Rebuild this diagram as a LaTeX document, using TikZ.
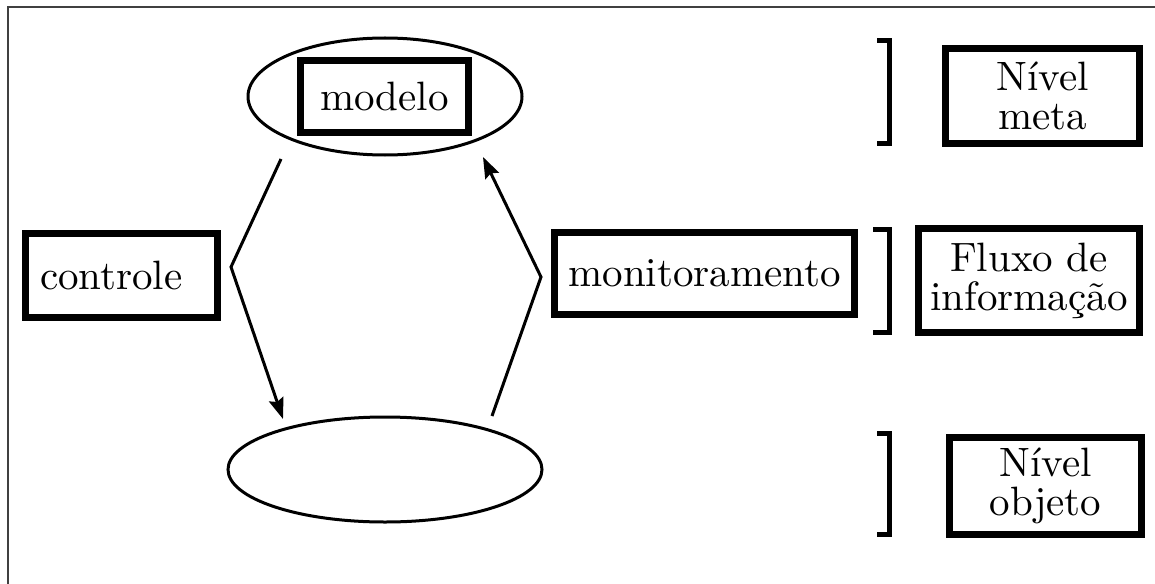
\documentclass[tikz,border=0pt]{standalone}
\usepackage{fontspec}
\setmainfont{lmroman10-regular.otf}[BoldFont=lmroman10-bold.otf,ItalicFont=lmroman10-italic.otf,BoldItalicFont=lmroman10-bolditalic.otf]
\usetikzlibrary{shapes.geometric,arrows.meta}
\begin{document}
\begin{tikzpicture}[x=0.5pt,y=-0.5pt,
  txt/.style={font=\fontsize{20.5}{19.5}\selectfont, align=center},
  box/.style={txt, draw, line width=3.5pt, inner sep=0pt},
  oval/.style={ellipse, draw, line width=1.5pt, inner sep=0pt},
  conn/.style={line width=1.5pt, line join=miter, -{Stealth[length=10.5pt,width=7.5pt,inset=1.5pt]}},
  brk/.style={line width=2.5pt, line join=miter}]
\useasboundingbox (0,0) rectangle (1155,583);
\fill[white] (0,0) rectangle (1155,583);
\draw[line width=0.8pt, black!75] (8,600) -- (8,7) -- (1170,7);

% levels
\node[oval, minimum width=137pt, minimum height=58.5pt] (metaoval) at (385,96.5) {};
\node[oval, minimum width=157pt, minimum height=52.5pt] (objoval) at (385,469.5) {};
\node[box, minimum width=84pt, minimum height=36pt] (modelo) at (384.5,96.5) {modelo};

% side labels
\node[box, minimum width=96pt, minimum height=42pt, text width=81.5pt, align=left, inner xsep=7.25pt] (controle) at (121.5,275.5) {controle};
\node[box, minimum width=150pt, minimum height=41pt] (monit) at (704.5,273.5) {monitoramento};

% right column
\node[box, minimum width=97pt, minimum height=47.5pt] (nmeta) at (1042.5,96) {Nível\\meta};
\node[box, minimum width=110.5pt, minimum height=52pt] (fluxo) at (1029,280.5) {Fluxo de\\informação};
\node[box, minimum width=96pt, minimum height=48.5pt] (nobj) at (1045.5,486) {Nível\\objeto};

% brackets
\draw[brk] (877,40.5) -| (889.5,143.5) -- (877,143.5);
\draw[brk] (873,229.5) -| (889.5,332.5) -- (873,332.5);
\draw[brk] (877,433.5) -| (889.5,534.5) -- (877,534.5);

% connectors
\coordinate (c0) at (281,159);
\coordinate (c1) at (231,267);
\coordinate (c2) at (283,419);
\draw[conn] (c0) -- (c1) -- (c2);
\coordinate (m0) at (492,416);
\coordinate (m1) at (541,277);
\coordinate (m2) at (483,157);
\draw[conn] (m0) -- (m1) -- (m2);
\end{tikzpicture}
\end{document}
